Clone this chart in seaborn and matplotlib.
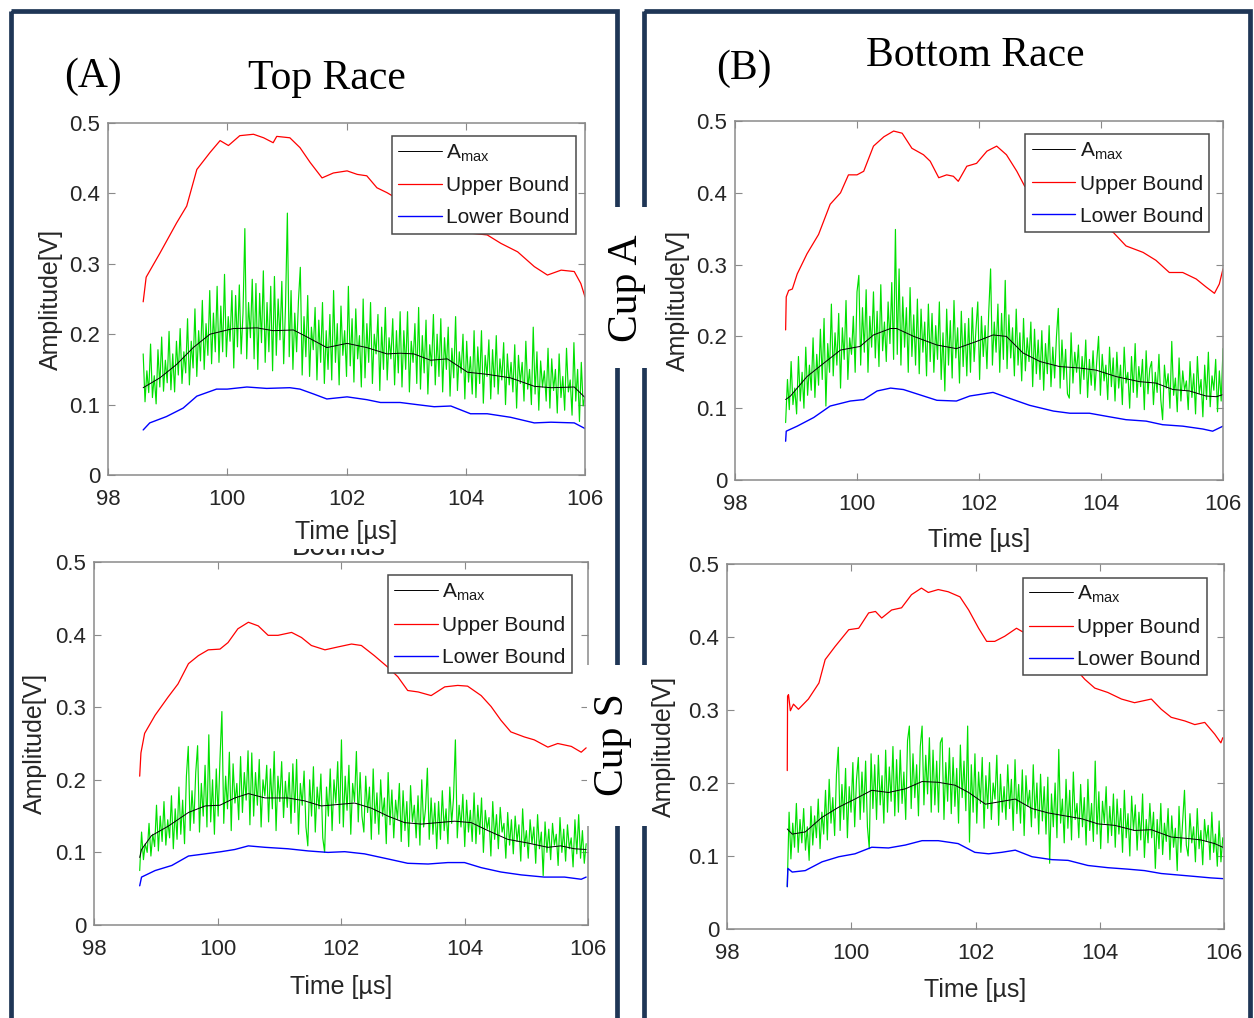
import numpy as np
import matplotlib
matplotlib.use("Agg")
import matplotlib.pyplot as plt
import seaborn as sns
from matplotlib.patches import Rectangle
from matplotlib.transforms import Bbox

# ---------------- data: time in µs, amplitude in V ----------------
x_ticks = [98, 100, 102, 104, 106]
x_tick_labels = ["98", "100", "102", "104", "106"]
y_ticks = [0, 0.1, 0.2, 0.3, 0.4, 0.5]
y_tick_labels = ["0", "0.1", "0.2", "0.3", "0.4", "0.5"]

# Top race, cup A
top_a_upper_t = [98.59, 98.64, 98.87, 99.15, 99.32, 99.49, 99.71, 99.88, 100.02, 100.21, 100.44, 100.61, 100.77, 100.83, 101.05, 101.22, 101.39, 101.59, 101.78, 102.01, 102.18, 102.34, 102.51, 102.68, 103.0, 103.4, 103.75, 104.03, 104.36, 104.59, 104.87, 105.15, 105.37, 105.60, 105.82, 105.93, 106.0]
top_a_upper_v = [.246, .281, .315, .358, .382, .434, .458, .475, .468, .482, .484, .479, .472, .481, .479, .465, .444, .422, .429, .432, .427, .425, .408, .401, .385, .365, .352, .344, .341, .329, .317, .296, .284, .291, .289, .272, .253]
top_a_mean_t = [98.59, 98.87, 99.15, 99.43, 99.71, 100.1, 100.5, 100.77, 101.11, 101.34, 101.67, 102.01, 102.34, 102.68, 102.9, 103.13, 103.41, 103.69, 104.03, 104.36, 104.75, 105.15, 105.43, 105.82, 106.0]
top_a_mean_v = [.124, .138, .157, .181, .200, .208, .209, .205, .206, .196, .181, .187, .181, .172, .173, .172, .163, .165, .146, .143, .138, .126, .124, .125, .110]
top_a_lower_t = [98.59, 98.70, 98.98, 99.26, 99.49, 99.82, 100.0, 100.33, 100.66, 101.05, 101.22, 101.45, 101.67, 102.01, 102.34, 102.57, 102.9, 103.18, 103.47, 103.75, 104.08, 104.36, 104.75, 105.15, 105.43, 105.82, 106.0]
top_a_lower_v = [.064, .074, .083, .095, .112, .122, .122, .125, .123, .124, .122, .115, .108, .111, .107, .103, .103, .100, .097, .098, .087, .087, .082, .074, .075, .074, .066]
top_a_signal_span = (98.59, 106.0)
top_a_signal_mv = [
    172, 104, 148, 117, 186, 110, 141, 101, 178, 125, 196, 119, 163, 131, 204, 121, 172, 118, 190, 142,
    208, 130, 175, 145, 222, 128, 190, 152, 236, 140, 205, 162, 248, 150, 215, 170, 262, 158, 230, 175,
    268, 160, 240, 175, 285, 168, 225, 190, 262, 152, 255, 182, 270, 172, 230, 350, 165, 245, 195, 278,
    165, 272, 150, 258, 188, 290, 160, 245, 175, 268, 148, 282, 170, 250, 192, 275, 158, 240, 372, 168,
    262, 150, 230, 175, 248, 295, 142, 225, 168, 255, 140, 210, 178, 238, 135, 220, 160, 245, 130, 205,
    150, 228, 135, 262, 160, 215, 128, 240, 170, 205, 140, 268, 155, 222, 132, 236, 165, 198, 125, 250,
    138, 215, 160, 245, 130, 200, 172, 228, 120, 210, 150, 238, 135, 195, 165, 222, 128, 205, 145, 232,
    125, 205, 150, 232, 118, 190, 160, 215, 130, 238, 122, 198, 145, 220, 115, 185, 155, 228, 128, 200,
    140, 222, 118, 195, 150, 210, 112, 180, 138, 225, 120, 175, 145, 200, 108, 190, 132, 168, 115, 205,
    110, 182, 130, 205, 102, 170, 140, 192, 108, 178, 125, 198, 115, 165, 135, 188, 100, 172, 128, 160,
    118, 185, 95, 170, 130, 160, 105, 190, 122, 150, 100, 210, 115, 175, 92, 162, 125, 148, 105, 180,
    95, 165, 120, 150, 88, 172, 110, 140, 92, 180, 118, 135, 85, 188, 105, 150, 76, 160, 98, 112,
]

# Bottom race, cup A
bot_a_upper_t = [98.83, 98.84, 98.88, 98.94, 99.02, 99.18, 99.37, 99.56, 99.73, 99.86, 100.0, 100.11, 100.27, 100.44, 100.6, 100.74, 100.9, 101.09, 101.2, 101.34, 101.47, 101.58, 101.66, 101.8, 101.96, 102.13, 102.29, 102.45, 102.62, 102.75, 103.1, 103.5, 103.85, 104.2, 104.41, 104.69, 104.9, 105.12, 105.34, 105.56, 105.72, 105.86, 105.94, 106.0]
bot_a_upper_v = [.209, .255, .264, .266, .287, .315, .342, .384, .400, .425, .425, .430, .465, .478, .486, .483, .462, .453, .444, .421, .425, .423, .416, .437, .441, .458, .465, .453, .430, .409, .392, .372, .358, .345, .326, .317, .306, .289, .289, .280, .269, .260, .273, .294]
bot_a_mean_t = [98.83, 98.91, 99.18, 99.46, 99.73, 100.05, 100.27, 100.55, 100.65, 100.93, 101.31, 101.63, 101.96, 102.23, 102.45, 102.72, 103.0, 103.32, 103.65, 103.92, 104.25, 104.63, 104.9, 105.18, 105.45, 105.72, 105.89, 106.0]
bot_a_mean_v = [.112, .117, .144, .163, .181, .186, .202, .211, .211, .200, .188, .183, .193, .202, .200, .177, .165, .158, .156, .153, .144, .137, .135, .126, .124, .117, .116, .119]
bot_a_lower_t = [98.83, 98.84, 99.02, 99.29, 99.56, 99.89, 100.11, 100.33, 100.55, 100.76, 101.09, 101.31, 101.63, 101.85, 102.23, 102.56, 102.83, 103.22, 103.49, 103.81, 104.14, 104.41, 104.74, 105.01, 105.34, 105.67, 105.83, 106.0]
bot_a_lower_v = [.054, .068, .075, .087, .103, .110, .112, .124, .128, .126, .117, .111, .110, .117, .122, .112, .104, .096, .093, .093, .088, .084, .082, .077, .075, .071, .068, .075]
bot_a_signal_span = (98.83, 106.0)
bot_a_signal_mv = [
    80, 140, 98, 165, 105, 128, 92, 172, 110, 150, 100, 185, 118, 160, 125, 198, 115, 175, 132, 210,
    140, 225, 103, 190, 150, 245, 145, 205, 160, 232, 128, 212, 168, 250, 140, 198, 175, 228, 150, 262,
    285, 160, 240, 178, 265, 150, 228, 185, 262, 170, 235, 158, 272, 180, 220, 165, 248, 190, 275, 168,
    349, 175, 294, 160, 255, 185, 240, 150, 268, 172, 230, 160, 252, 148, 238, 178, 220, 145, 245, 165,
    232, 150, 215, 168, 248, 140, 205, 124, 238, 160, 222, 142, 250, 170, 212, 135, 235, 158, 218, 145,
    225, 150, 240, 165, 210, 248, 140, 228, 172, 215, 155, 235, 294, 160, 220, 178, 245, 150, 232, 168,
    278, 155, 230, 170, 212, 145, 238, 160, 205, 138, 225, 152, 198, 165, 220, 130, 210, 148, 195, 140,
    208, 125, 190, 148, 215, 130, 185, 142, 200, 239, 128, 195, 140, 182, 120, 114, 205, 135, 178, 150,
    188, 120, 172, 140, 195, 115, 168, 132, 180, 125, 165, 200, 118, 175, 138, 160, 112, 185, 130, 170,
    110, 178, 128, 160, 105, 185, 135, 150, 100, 172, 122, 190, 115, 158, 130, 168, 98, 180, 120, 155,
    165, 105, 150, 122, 175, 112, 84, 160, 128, 148, 100, 193, 118, 142, 95, 170, 110, 152, 125, 138,
    98, 165, 115, 148, 92, 172, 120, 140, 88, 160, 112, 178, 102, 145, 125, 168, 95, 152, 110, 183,
]

# Top race, cup S
top_s_upper_t = [98.74, 98.76, 98.82, 98.99, 99.2, 99.36, 99.53, 99.69, 99.85, 100.04, 100.17, 100.33, 100.5, 100.66, 100.82, 100.98, 101.2, 101.36, 101.52, 101.74, 101.95, 102.17, 102.33, 102.54, 102.76, 102.92, 103.08, 103.25, 103.46, 103.68, 103.89, 104.05, 104.27, 104.43, 104.59, 104.75, 104.97, 105.13, 105.35, 105.51, 105.73, 105.89, 105.97]
top_s_upper_v = [.205, .237, .264, .289, .314, .332, .360, .371, .379, .380, .389, .408, .417, .412, .399, .399, .403, .396, .385, .379, .383, .387, .385, .371, .355, .342, .323, .321, .316, .328, .330, .329, .316, .301, .282, .266, .259, .255, .245, .250, .246, .238, .244]
top_s_mean_t = [98.74, 98.77, 98.93, 99.2, 99.53, 99.8, 100.04, 100.28, 100.5, 100.77, 101.14, 101.41, 101.68, 101.95, 102.22, 102.49, 102.76, 103.03, 103.3, 103.57, 103.84, 104.11, 104.38, 104.7, 105.02, 105.35, 105.56, 105.78, 105.97]
top_s_mean_v = [.093, .104, .123, .136, .155, .164, .165, .175, .181, .175, .175, .171, .164, .166, .168, .161, .150, .141, .139, .141, .143, .141, .130, .118, .113, .107, .109, .105, .104]
top_s_lower_t = [98.74, 98.77, 98.99, 99.26, 99.53, 99.8, 100.06, 100.28, 100.5, 100.77, 101.14, 101.47, 101.79, 102.06, 102.38, 102.76, 103.08, 103.41, 103.73, 104.0, 104.27, 104.59, 104.92, 105.29, 105.62, 105.89, 105.97]
top_s_lower_v = [.054, .066, .075, .082, .095, .098, .101, .104, .109, .107, .105, .102, .100, .101, .098, .091, .085, .084, .086, .086, .079, .073, .069, .066, .066, .063, .066]
top_s_signal_span = (98.74, 105.97)
top_s_signal_mv = [
    75, 128, 90, 112, 100, 140, 95, 125, 108, 165, 102, 150, 115, 170, 110, 145, 120, 178, 105, 160,
    118, 190, 125, 172, 112, 205, 246, 130, 185, 140, 210, 247, 128, 195, 150, 220, 135, 262, 142, 200,
    125, 215, 150, 230, 294, 140, 205, 160, 238, 130, 222, 168, 195, 145, 232, 155, 210, 172, 240, 138,
    237, 150, 210, 165, 228, 135, 200, 178, 220, 142, 215, 160, 239, 130, 205, 170, 225, 148, 198, 162,
    210, 140, 222, 155, 228, 125, 195, 165, 212, 135, 109, 200, 150, 218, 128, 190, 160, 208, 120, 100,
    190, 150, 215, 130, 200, 168, 225, 140, 255, 135, 205, 158, 220, 125, 195, 170, 239, 142, 210, 150,
    128, 205, 155, 190, 118, 215, 140, 182, 125, 200, 150, 175, 112, 210, 138, 186, 120, 172, 145, 195,
    115, 185, 130, 170, 108, 192, 142, 165, 120, 178, 110, 200, 135, 160, 216, 118, 175, 125, 168, 105,
    170, 118, 185, 130, 160, 112, 190, 140, 175, 255, 120, 165, 135, 180, 108, 172, 128, 158, 115, 182,
    112, 165, 125, 175, 100, 158, 132, 148, 95, 170, 118, 152, 105, 162, 128, 140, 92, 155, 110, 145,
    98, 150, 115, 138, 88, 160, 108, 130, 92, 145, 112, 135, 85, 152, 105, 128, 68, 142, 100, 132,
    90, 140, 110, 125, 82, 148, 100, 132, 88, 138, 105, 120, 80, 145, 98, 152, 92, 130, 85, 112,
]

# Bottom race, cup S
bot_s_upper_t = [98.97, 98.975, 98.99, 99.02, 99.07, 99.15, 99.31, 99.48, 99.58, 99.74, 99.96, 100.12, 100.28, 100.39, 100.49, 100.65, 100.81, 100.97, 101.13, 101.24, 101.4, 101.56, 101.75, 101.89, 102.05, 102.18, 102.31, 102.47, 102.66, 102.74, 103.0, 103.3, 103.55, 103.76, 103.92, 104.13, 104.35, 104.56, 104.83, 104.99, 105.15, 105.37, 105.53, 105.69, 105.85, 105.95, 105.98]
bot_s_upper_v = [.217, .319, .321, .299, .308, .301, .315, .337, .369, .387, .410, .412, .433, .435, .426, .437, .440, .458, .467, .461, .465, .462, .455, .437, .412, .394, .394, .401, .412, .408, .398, .382, .362, .342, .330, .324, .315, .310, .315, .301, .290, .285, .280, .283, .267, .255, .262]
bot_s_mean_t = [98.97, 99.05, 99.26, 99.53, 99.8, 100.06, 100.33, 100.6, 100.87, 101.14, 101.4, 101.67, 101.89, 102.16, 102.37, 102.64, 102.91, 103.17, 103.44, 103.71, 103.97, 104.24, 104.56, 104.83, 105.15, 105.42, 105.63, 105.85, 105.98]
bot_s_mean_v = [.137, .130, .133, .153, .167, .178, .190, .187, .192, .202, .201, .197, .187, .171, .174, .178, .165, .159, .155, .151, .144, .142, .135, .136, .126, .124, .122, .117, .112]
bot_s_lower_t = [98.97, 98.98, 99.05, 99.26, 99.53, 99.8, 100.06, 100.33, 100.6, 100.87, 101.14, 101.4, 101.72, 101.99, 102.21, 102.42, 102.64, 102.91, 103.23, 103.49, 103.81, 104.13, 104.45, 104.72, 104.99, 105.26, 105.53, 105.79, 105.98]
bot_s_lower_v = [.058, .083, .078, .080, .092, .099, .103, .112, .111, .115, .121, .121, .117, .105, .103, .105, .108, .099, .095, .094, .087, .084, .082, .080, .076, .074, .072, .070, .069]
bot_s_signal_span = (98.97, 105.98)
bot_s_signal_mv = [
    58, 160, 96, 145, 112, 172, 105, 150, 118, 165, 108, 140, 94, 168, 115, 155, 125, 178, 110, 160,
    130, 190, 122, 205, 145, 180, 128, 212, 249, 135, 198, 150, 220, 125, 195, 160, 228, 140, 205, 235,
    150, 215, 160, 230, 140, 110, 240, 165, 225, 150, 238, 170, 210, 145, 245, 160, 222, 175, 250, 155,
    232, 160, 245, 172, 215, 150, 258, 278, 165, 240, 180, 225, 155, 250, 278, 170, 238, 185, 262, 160,
    245, 170, 230, 160, 255, 262, 150, 228, 175, 248, 158, 235, 168, 220, 145, 252, 180, 230, 162, 278,
    119, 225, 160, 240, 145, 215, 172, 235, 138, 210, 165, 228, 150, 200, 178, 238, 142, 212, 160, 195,
    150, 225, 165, 205, 135, 232, 158, 198, 145, 218, 128, 210, 168, 190, 140, 225, 152, 200, 130, 212,
    148, 195, 130, 208, 90, 185, 140, 200, 125, 246, 145, 178, 118, 205, 138, 190, 122, 215, 150, 172,
    125, 198, 140, 180, 115, 205, 135, 172, 120, 230, 130, 188, 110, 175, 145, 195, 118, 168, 128, 185,
    112, 178, 130, 165, 105, 190, 125, 158, 100, 182, 135, 170, 108, 160, 122, 185, 98, 150, 118, 172,
    125, 160, 83, 150, 110, 172, 102, 145, 120, 165, 95, 155, 112, 138, 80, 168, 105, 148, 190, 115,
    100, 158, 118, 140, 92, 165, 110, 135, 88, 150, 120, 142, 95, 160, 105, 130, 86, 148, 92, 125,
]

# ---------------- style ----------------
sns.set_style("white")
plt.rcParams["font.family"] = ["Liberation Sans", "DejaVu Sans"]
plt.rcParams["mathtext.fontset"] = "custom"
plt.rcParams["mathtext.rm"] = "Liberation Sans"
plt.rcParams["mathtext.it"] = "Liberation Sans:italic"

W, H = 1254, 1018
fig = plt.figure(figsize=(W / 100, H / 100), dpi=100)
fig.patch.set_facecolor("white")

SPINE = "#8a8a8a"
TEXT = "#262626"
SERIF = ["Liberation Serif", "DejaVu Serif"]


def px_axes(left, right, top, bottom):
    return fig.add_axes([left / W, 1 - bottom / H, (right - left) / W, (bottom - top) / H])


panels = [
    # axes box (px), series, ylabel x, xlabel y
    ((108, 585, 123, 475), top_a_upper_t, top_a_upper_v, top_a_mean_t, top_a_mean_v,
     top_a_lower_t, top_a_lower_v, top_a_signal_span, top_a_signal_mv, -0.094, -0.128),
    ((735, 1223, 121, 480), bot_a_upper_t, bot_a_upper_v, bot_a_mean_t, bot_a_mean_v,
     bot_a_lower_t, bot_a_lower_v, bot_a_signal_span, bot_a_signal_mv, -0.093, -0.133),
    ((94, 588, 562, 925), top_s_upper_t, top_s_upper_v, top_s_mean_t, top_s_mean_v,
     top_s_lower_t, top_s_lower_v, top_s_signal_span, top_s_signal_mv, -0.095, -0.138),
    ((727, 1224, 564, 929), bot_s_upper_t, bot_s_upper_v, bot_s_mean_t, bot_s_mean_v,
     bot_s_lower_t, bot_s_lower_v, bot_s_signal_span, bot_s_signal_mv, -0.102, -0.134),
]

for (box, up_t, up_v, mn_t, mn_v, lo_t, lo_v, span, sig_mv, ylab_x, xlab_y) in panels:
    ax = px_axes(*box)
    sig_v = np.asarray(sig_mv) / 1000.0
    sig_t = np.linspace(span[0], span[1], len(sig_v))

    sns.lineplot(x=sig_t, y=sig_v, ax=ax, color="#00e000", linewidth=0.85,
                 estimator=None, sort=False, legend=False, label="_nolegend_")
    sns.lineplot(x=mn_t, y=mn_v, ax=ax, color="#000000", linewidth=0.7,
                 estimator=None, sort=False, legend=False, label="A$_{\\mathrm{max}}$")
    sns.lineplot(x=up_t, y=up_v, ax=ax, color="#ff0000", linewidth=0.9,
                 estimator=None, sort=False, legend=False, label="Upper Bound")
    sns.lineplot(x=lo_t, y=lo_v, ax=ax, color="#0000ff", linewidth=1.0,
                 estimator=None, sort=False, legend=False, label="Lower Bound")

    ax.set_xlim(98, 106)
    ax.set_ylim(0, 0.5)
    ax.set_xticks(x_ticks)
    ax.set_xticklabels(x_tick_labels)
    ax.set_yticks(y_ticks)
    ax.set_yticklabels(y_tick_labels)
    ax.tick_params(axis="both", direction="in", length=5, width=0.8, color=SPINE,
                   labelsize=16, labelcolor=TEXT, top=True, right=True,
                   bottom=True, left=True)
    ax.tick_params(axis="x", pad=10)
    ax.tick_params(axis="y", pad=5.5)
    for s in ax.spines.values():
        s.set_visible(True)
        s.set_color(SPINE)
        s.set_linewidth(1.1)

    ax.set_xlabel("Time [µs]", fontsize=18, color=TEXT)
    ax.set_ylabel("Amplitude[V]", fontsize=18, color=TEXT)
    ax.xaxis.set_label_coords(0.5, xlab_y)
    ax.yaxis.set_label_coords(ylab_x, 0.5)
    ax.xaxis.label.set_va("top")

    h, l = ax.get_legend_handles_labels()
    leg = ax.legend(h, l, loc="upper left", bbox_to_anchor=(0.595, 0.963),
                    borderaxespad=0, fontsize=15, frameon=True, fancybox=False,
                    framealpha=1, edgecolor="#4a4a4a", borderpad=0.3,
                    handlelength=2.1, handletextpad=0.2, labelspacing=0.62)
    leg.get_frame().set_linewidth(1.1)
    for t in leg.get_texts():
        t.set_color("#1a1a1a")

# ---------------- overlay: frames, headings, row labels ----------------
ov = fig.add_axes([0, 0, 1, 1], zorder=10)
ov.set_xlim(0, W)
ov.set_ylim(H, 0)
ov.axis("off")
ov.patch.set_alpha(0)

NAVY = "#1f3656"
ov.add_patch(Rectangle((10.5, 10.5), 606, 1040, fill=False, ec=NAVY, lw=3.4))
ov.add_patch(Rectangle((643.5, 10.5), 606, 1040, fill=False, ec=NAVY, lw=3.4))
ov.add_patch(Rectangle((598, 207), 59, 161, fc="white", ec="none"))
ov.add_patch(Rectangle((587, 665), 63, 161, fc="white", ec="none"))

ov.text(627, 288, "Cup A", rotation=90, ha="center", va="center", fontsize=30,
        family=SERIF, color="black")
ov.text(613, 745, "Cup S", rotation=90, ha="center", va="center", fontsize=30,
        family=SERIF, color="black")
ov.text(64, 87, "(A)", ha="left", va="baseline", fontsize=30, family=SERIF, color="black")
ov.text(248, 89, "Top Race", ha="left", va="baseline", fontsize=30, family=SERIF, color="black")
ov.text(716, 79, "(B)", ha="left", va="baseline", fontsize=30, family=SERIF, color="black")
ov.text(866, 66, "Bottom Race", ha="left", va="baseline", fontsize=30, family=SERIF, color="black")

# leftover caption fragment peeking out between the two left panels
frag = ov.text(292, 555, "Bounds", ha="left", va="baseline", fontsize=20, color=TEXT)
frag.set_clip_on(True)
frag.set_clip_box(Bbox([[280, H - 557], [400, H - 549]]))

fig.savefig("out.png", dpi=100, facecolor="white")
